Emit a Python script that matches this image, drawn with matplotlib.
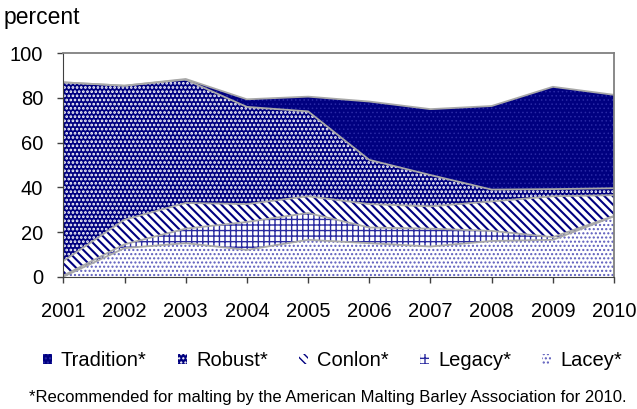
import matplotlib
matplotlib.use('Agg')
import matplotlib.pyplot as plt
from matplotlib.patches import Patch
import numpy as np

plt.rcParams['font.family'] = ['Liberation Sans', 'DejaVu Sans']

# shares of acreage (percent)
years = [2001, 2002, 2003, 2004, 2005, 2006, 2007, 2008, 2009, 2010]
lacey = [0, 12.8, 15, 12, 16.5, 15, 13.5, 16, 16.5, 27]
legacy = [0.5, 1.7, 6.5, 12.5, 12, 7, 8, 4.5, 1.2, 0.2]
conlon = [6.5, 11, 11.5, 8, 7.5, 10.5, 10, 13.2, 18.3, 9.3]
robust = [80, 60, 55.2, 43.5, 38, 19.8, 14, 5.3, 3.2, 3.1]
tradition = [0, 0, 0.3, 3.4, 6.6, 26.1, 29.5, 37.4, 45.8, 41.8]

names = ['Lacey*', 'Legacy*', 'Conlon*', 'Robust*', 'Tradition*']
series = [lacey, legacy, conlon, robust, tradition]
# (face, hatch, hatch colour, hatch linewidth)
styles = [
    ('white', '....', '#5c5cbc', 1.0),
    ('white', '+++', '#2a2aa0', 1.0),
    ('white', '\\\\\\\\', '#000080', 1.5),
    ('#000080', '....', 'white', 1.3),
    ('#000080', '....', '#2a2aa6', 0.6),
]

fig = plt.figure(figsize=(6.37, 4.09), dpi=100)
ax = fig.add_axes([0.0994, 0.3235, 0.8646, 0.5462])

x = np.array(years)
bottom = np.zeros(len(years))
for vals, (face, hatch, hc, hlw) in zip(series, styles):
    top = bottom + np.array(vals)
    with plt.rc_context({'hatch.linewidth': hlw}):
        ax.fill_between(x, bottom, top, facecolor=face, hatch=hatch,
                        edgecolor=hc, linewidth=0)
    bottom = top

# boundary lines between layers
bottom = np.zeros(len(years))
for vals in series:
    bottom = bottom + np.array(vals)
    ax.plot(x, bottom, color='#a8a8a8', linewidth=1.3)

ax.set_xlim(2001, 2010)
ax.set_ylim(0, 100)
ax.set_xticks(years)
ax.set_yticks(range(0, 101, 20))
ax.tick_params(labelsize=14.5, length=4.5, width=1, color='#404040')
ax.tick_params(axis='y', pad=10)
ax.tick_params(axis='x', pad=14)
for s in ['top', 'right']:
    ax.spines[s].set_color('#808080')
    ax.spines[s].set_linewidth(1.3)
for s in ['left', 'bottom']:
    ax.spines[s].set_color('#404040')

fig.text(0.005, 0.958, 'percent', fontsize=16.5, va='center', ha='left')

handles = []
for n, (face, hatch, hc, hlw) in zip(names, styles):
    handles.append(Patch(facecolor=face, hatch=hatch, edgecolor=hc, linewidth=0, label=n))
handles = handles[::-1]
fig.legend(handles=handles, loc='center', bbox_to_anchor=(0.522, 0.118), ncol=5,
           frameon=False, fontsize=14.5, handlelength=0.45, handleheight=0.45,
           handletextpad=0.45, columnspacing=1.55, borderpad=0, borderaxespad=0)

fig.text(0.514, 0.028, '*Recommended for malting by the American Malting Barley Association for 2010.',
         fontsize=12, ha='center', va='center')

fig.savefig('out.png', dpi=100)
